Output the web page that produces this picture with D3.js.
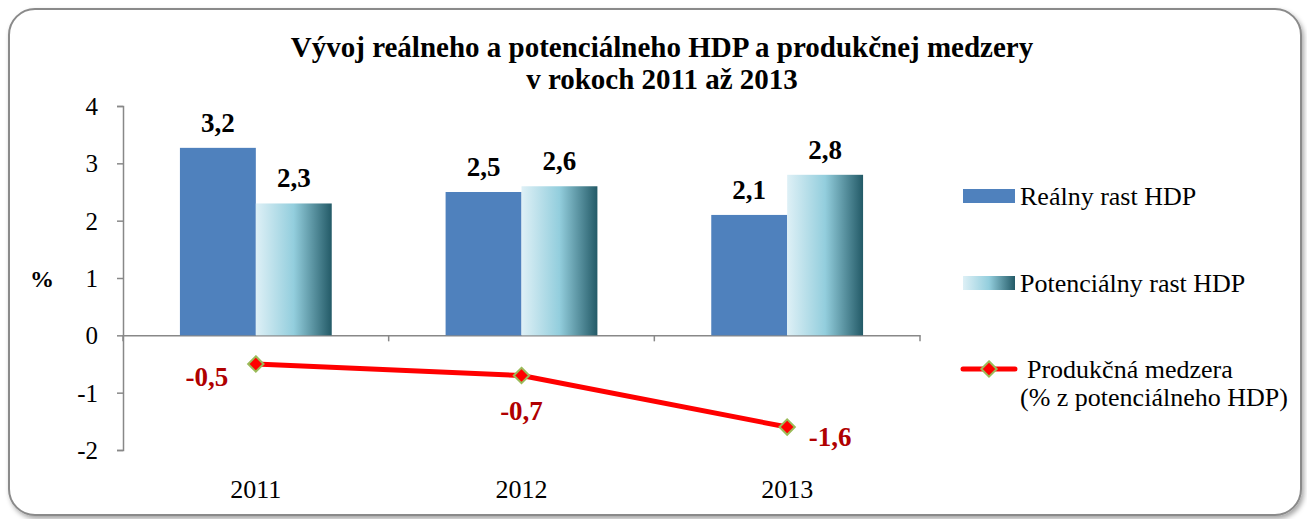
<!DOCTYPE html>
<html><head><meta charset="utf-8">
<script src="https://cdn.jsdelivr.net/npm/d3@7"></script>
<style>body{margin:0;background:#fff}svg{display:block}</style>
</head><body>
<svg id="c" width="1307" height="519" font-family="Liberation Serif"></svg>
<script>
const years = ["2011", "2012", "2013"];
const realGrowth = [3.27, 2.5, 2.1];
const realLabels = ["3,2", "2,5", "2,1"];
const potentialGrowth = [2.3, 2.6, 2.8];
const potentialLabels = ["2,3", "2,6", "2,8"];
const outputGap = [-0.5, -0.7, -1.6];
const gapLabels = ["-0,5", "-0,7", "-1,6"];
const yTicks = [-2, -1, 0, 1, 2, 3, 4];
const titleLines = ["Vývoj reálneho a potenciálneho HDP a produkčnej medzery", "v rokoch 2011 až 2013"];
const legendNames = ["Reálny rast HDP", "Potenciálny rast HDP", "Produkčná medzera", "(% z potenciálneho HDP)"];

const FF = "Liberation Serif";
const svg = d3.select("#c");
const defs = svg.append("defs");
const g = defs.append("linearGradient").attr("id","teal").attr("x1","0").attr("x2","1").attr("y1","0").attr("y2","0");
g.append("stop").attr("offset","0%").attr("stop-color","#def0f6");
g.append("stop").attr("offset","50%").attr("stop-color","#93cedd");
g.append("stop").attr("offset","100%").attr("stop-color","#235a67");
const f = defs.append("filter").attr("id","sh").attr("x","-5%").attr("y","-5%").attr("width","110%").attr("height","110%");
f.append("feDropShadow").attr("dx",2).attr("dy",3).attr("stdDeviation",2.5).attr("flood-color","#000").attr("flood-opacity",0.35);

svg.append("rect").attr("x",9).attr("y",9).attr("width",1292).attr("height",506).attr("rx",26)
  .attr("fill","#fff").attr("stroke","#8a8a8a").attr("stroke-width",2).attr("filter","url(#sh)");

const x = d3.scaleBand().domain(years).range([123, 920]);
const y = d3.scaleLinear().domain([-2, 4]).range([450, 106]);
const inner = d3.scaleBand().domain([0,1]).range([0, x.bandwidth()]).paddingOuter(0.75).paddingInner(0);

// title
svg.append("g").selectAll("text").data(titleLines).join("text")
  .attr("x", 662).attr("y", (d,i)=>57 + i*32).attr("text-anchor","middle").attr("font-family",FF)
  .attr("font-weight","bold").attr("font-size", 29).attr("fill","#000").text(d=>d);

// y axis
const ya = svg.append("g").attr("transform","translate(123,0)")
  .call(d3.axisLeft(y).tickValues(yTicks).tickSize(6).tickFormat(d=>String(d)).tickSizeOuter(6));
ya.attr("font-family",FF);
ya.select(".domain").attr("stroke","#888").attr("stroke-width",1.5);
ya.selectAll(".tick line").attr("stroke","#888").attr("stroke-width",1.5);
ya.selectAll(".tick text").attr("font-size",25).attr("fill","#000").attr("x",-25).attr("dy","0.34em").attr("font-family",FF);

svg.append("text").attr("x",42).attr("y",287).attr("text-anchor","middle").attr("font-family",FF).attr("font-weight","bold").attr("font-size",24).text("%");

// x axis at zero
const xa = svg.append("g").attr("transform",`translate(0,${y(0)})`)
  .call(d3.axisBottom(x).tickSize(0).tickFormat(""));
xa.select(".domain").attr("stroke","#888").attr("stroke-width",1.5);
const bounds = [123].concat(years.map(d=>x(d)+x.bandwidth()));
svg.append("g").selectAll("line").data(bounds).join("line")
  .attr("x1",d=>d).attr("x2",d=>d).attr("y1",y(0)).attr("y2",y(0)+6).attr("stroke","#888").attr("stroke-width",1.5);
svg.append("g").selectAll("text").data(years).join("text")
  .attr("x",d=>x(d)+x.bandwidth()/2).attr("y",498).attr("text-anchor","middle").attr("font-family",FF).attr("font-size",26).text(d=>d);

// bars
svg.append("g").selectAll("rect").data(realGrowth).join("rect")
  .attr("x",(d,i)=>x(years[i])+inner(0)).attr("width",inner.bandwidth())
  .attr("y",d=>y(d)).attr("height",d=>y(0)-y(d)).attr("fill","#4f81bd");
svg.append("g").selectAll("rect").data(potentialGrowth).join("rect")
  .attr("x",(d,i)=>x(years[i])+inner(1)).attr("width",inner.bandwidth())
  .attr("y",d=>y(d)).attr("height",d=>y(0)-y(d)).attr("fill","url(#teal)");

svg.append("g").selectAll("text").data(realGrowth).join("text")
  .attr("x",(d,i)=>x(years[i])+inner(0)+inner.bandwidth()/2).attr("y",d=>y(d)-16)
  .attr("text-anchor","middle").attr("font-family",FF).attr("font-weight","bold").attr("font-size",27).text((d,i)=>realLabels[i]);
svg.append("g").selectAll("text").data(potentialGrowth).join("text")
  .attr("x",(d,i)=>x(years[i])+inner(1)+inner.bandwidth()/2).attr("y",d=>y(d)-16)
  .attr("text-anchor","middle").attr("font-family",FF).attr("font-weight","bold").attr("font-size",27).text((d,i)=>potentialLabels[i]);

// line
const lx = (i)=>x(years[i])+inner(1);
const line = d3.line().x((d,i)=>lx(i)).y(d=>y(d));
svg.append("path").datum(outputGap).attr("d",line).attr("fill","none").attr("stroke","#ff0000").attr("stroke-width",5).attr("stroke-linejoin","round");
const sym = d3.symbol().type(d3.symbolDiamond2).size(150);
svg.append("g").selectAll("path").data(outputGap).join("path")
  .attr("d",sym).attr("transform",(d,i)=>`translate(${lx(i)},${y(d)})`)
  .attr("fill","#ff0000").attr("stroke","#9bbb59").attr("stroke-width",2);
const gapOff = [[-49,22],[0,45],[43,19]];
svg.append("g").selectAll("text").data(outputGap).join("text")
  .attr("x",(d,i)=>lx(i)+gapOff[i][0]).attr("y",(d,i)=>y(d)+gapOff[i][1])
  .attr("text-anchor","middle").attr("font-family",FF).attr("font-weight","bold").attr("font-size",27).attr("fill","#b00000").text((d,i)=>gapLabels[i]);

// legend
const lg = svg.append("g").attr("font-family",FF);
lg.append("rect").attr("x",963).attr("y",189).attr("width",52).attr("height",14).attr("fill","#4f81bd");
lg.append("text").attr("x",1020).attr("y",205).attr("font-size",26).text(legendNames[0]);
lg.append("rect").attr("x",963).attr("y",276).attr("width",52).attr("height",14).attr("fill","url(#teal)");
lg.append("text").attr("x",1020).attr("y",292).attr("font-size",26).text(legendNames[1]);
lg.append("line").attr("x1",963).attr("x2",1015).attr("y1",369).attr("y2",369).attr("stroke","#ff0000").attr("stroke-width",5).attr("stroke-linecap","round");
lg.append("path").attr("d",sym).attr("transform","translate(989,369)").attr("fill","#ff0000").attr("stroke","#9bbb59").attr("stroke-width",2);
lg.append("text").attr("x",1027).attr("y",378).attr("font-size",26).text(legendNames[2]);
lg.append("text").attr("x",1020).attr("y",406).attr("font-size",26).text(legendNames[3]);
</script>
</body></html>
